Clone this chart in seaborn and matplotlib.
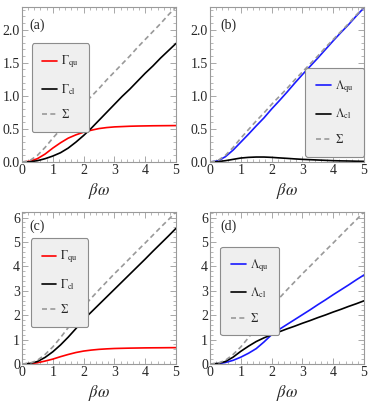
import matplotlib
matplotlib.use("Agg")
import matplotlib.pyplot as plt
import seaborn as sns
from matplotlib.ticker import MultipleLocator, FormatStrFormatter

beta_omega = [0, 0.25, 0.5, 0.75, 1.0, 1.25, 1.5, 1.75, 2.0, 2.25, 2.5,
              2.75, 3.0, 3.25, 3.5, 3.75, 4.0, 4.25, 4.5, 4.75, 5.0]

# top row
sigma_top = [0, 0.02, 0.1, 0.22, 0.36, 0.49, 0.62, 0.74, 0.87, 0.99, 1.11,
             1.24, 1.36, 1.48, 1.6, 1.73, 1.85, 1.97, 2.09, 2.22, 2.34]
gamma_qu_a = [0, 0.01, 0.05, 0.12, 0.21, 0.29, 0.36, 0.41, 0.45, 0.48, 0.505,
              0.52, 0.53, 0.535, 0.54, 0.543, 0.545, 0.547, 0.548, 0.549, 0.55]
gamma_cl_a = [0, 0.003, 0.02, 0.05, 0.09, 0.14, 0.21, 0.3, 0.4, 0.51, 0.63,
              0.75, 0.87, 0.99, 1.1, 1.22, 1.34, 1.45, 1.57, 1.68, 1.79]
lambda_qu_b = [0, 0.015, 0.08, 0.18, 0.3, 0.42, 0.545, 0.665, 0.8, 0.925, 1.055,
               1.19, 1.32, 1.445, 1.57, 1.7, 1.83, 1.955, 2.075, 2.205, 2.33]
lambda_cl_b = [0, 0.005, 0.02, 0.04, 0.06, 0.07, 0.075, 0.075, 0.07, 0.062, 0.055,
               0.047, 0.04, 0.035, 0.03, 0.025, 0.02, 0.017, 0.015, 0.012, 0.01]

# bottom row
sigma_bottom = [0, 0.03, 0.15, 0.39, 0.7, 1.08, 1.49, 1.92, 2.35, 2.7, 3.04,
                3.37, 3.7, 4.01, 4.33, 4.65, 4.96, 5.28, 5.6, 5.91, 6.23]
gamma_qu_c = [0, 0.01, 0.05, 0.12, 0.2, 0.3, 0.39, 0.47, 0.53, 0.57, 0.6,
              0.62, 0.635, 0.643, 0.65, 0.655, 0.66, 0.663, 0.665, 0.668, 0.67]
gamma_cl_c = [0, 0.02, 0.1, 0.27, 0.5, 0.78, 1.1, 1.45, 1.82, 2.13, 2.44,
              2.75, 3.06, 3.37, 3.68, 3.99, 4.3, 4.62, 4.93, 5.24, 5.56]
lambda_qu_d = [0, 0.01, 0.06, 0.15, 0.28, 0.44, 0.63, 0.9, 1.2, 1.42, 1.62,
               1.82, 2.02, 2.22, 2.43, 2.63, 2.84, 3.04, 3.24, 3.45, 3.65]
lambda_cl_d = [0, 0.02, 0.1, 0.28, 0.52, 0.73, 0.92, 1.07, 1.2, 1.32, 1.44,
               1.55, 1.67, 1.78, 1.9, 2.01, 2.13, 2.24, 2.36, 2.47, 2.59]

RED = "#ff0000"
BLUE = "#1a1aff"
DASH = "#999999"
FRAME = "#9a9a9a"

sns.set_theme(style="ticks")
plt.rcParams["font.family"] = ["Liberation Serif", "DejaVu Serif"]
plt.rcParams["font.serif"] = ["Liberation Serif", "DejaVu Serif"]
plt.rcParams["mathtext.fontset"] = "stix"

fig = plt.figure(figsize=(3.74, 4.03), dpi=100)

# axes rectangles in figure fraction (left, bottom, width, height)
rects = {
    "a": [0.0588, 0.598, 0.4118, 0.3846],
    "b": [0.5615, 0.598, 0.4118, 0.3846],
    "c": [0.0588, 0.0968, 0.4118, 0.3772],
    "d": [0.5615, 0.0968, 0.4118, 0.3772],
}

panels = [
    ("a", [(gamma_qu_a, RED, "-", r"$\Gamma_{\rm qu}$"),
           (gamma_cl_a, "black", "-", r"$\Gamma_{\rm cl}$"),
           (sigma_top, DASH, "--", r"$\Sigma$")],
     0.5, 0.1, "%.1f", dict(loc="upper left", bbox_to_anchor=(0.063, 0.766)), (0.097, 0.884)),
    ("b", [(lambda_qu_b, BLUE, "-", r"$\Lambda_{\rm qu}$"),
           (lambda_cl_b, "black", "-", r"$\Lambda_{\rm cl}$"),
           (sigma_top, DASH, "--", r"$\Sigma$")],
     0.5, 0.1, "%.1f", dict(loc="lower left", bbox_to_anchor=(0.619, 0.034)), (0.117, 0.884)),
    ("c", [(gamma_qu_c, RED, "-", r"$\Gamma_{\rm qu}$"),
           (gamma_cl_c, "black", "-", r"$\Gamma_{\rm cl}$"),
           (sigma_bottom, DASH, "--", r"$\Sigma$")],
     1, 0.2, "%d", dict(loc="upper left", bbox_to_anchor=(0.058, 0.827)), (0.097, 0.908)),
    ("d", [(lambda_qu_d, BLUE, "-", r"$\Lambda_{\rm qu}$"),
           (lambda_cl_d, "black", "-", r"$\Lambda_{\rm cl}$"),
           (sigma_bottom, DASH, "--", r"$\Sigma$")],
     1, 0.2, "%d", dict(loc="upper left", bbox_to_anchor=(0.067, 0.772)), (0.117, 0.908)),
]

for key, series, ymaj, ymin, yfmt, legkw, labpos in panels:
    ax = fig.add_axes(rects[key])
    for values, color, ls, label in series:
        line_kw = dict(dashes=(3, 2)) if ls == "--" else {}
        sns.lineplot(x=beta_omega, y=values, ax=ax, color=color,
                     linewidth=1.2, label=label, **line_kw)
    top = max(max(v) for v, *_ in series)
    ax.set_xlim(0, 5)
    ax.set_ylim(0, top)
    ax.xaxis.set_major_locator(MultipleLocator(1))
    ax.xaxis.set_minor_locator(MultipleLocator(0.2))
    ax.yaxis.set_major_locator(MultipleLocator(ymaj))
    ax.yaxis.set_minor_locator(MultipleLocator(ymin))
    ax.yaxis.set_major_formatter(FormatStrFormatter(yfmt))
    ax.tick_params(which="both", direction="in", top=True, right=True,
                   color=FRAME, labelsize=10, pad=1.5)
    ax.tick_params(which="major", length=4, width=0.6)
    ax.tick_params(which="minor", length=2, width=0.5)
    for sp in ax.spines.values():
        sp.set_color(FRAME)
        sp.set_linewidth(0.8)
    ax.set_xlabel(r"$\beta\omega$", fontsize=12, labelpad=3)
    ax.set_ylabel("")
    ax.text(labpos[0], labpos[1], f"({key})", transform=ax.transAxes,
            fontsize=10, ha="center", va="center")
    leg = ax.legend(frameon=True, fancybox=True, fontsize=8.5, handlelength=1.25,
                    handletextpad=0.35, labelspacing=1.0, borderpad=0.9,
                    borderaxespad=0, **legkw)
    frame = leg.get_frame()
    frame.set_facecolor("#efefef")
    frame.set_edgecolor("#8c8c8c")
    frame.set_linewidth(0.8)
    frame.set_alpha(1)

fig.savefig("out.png", dpi=100)
